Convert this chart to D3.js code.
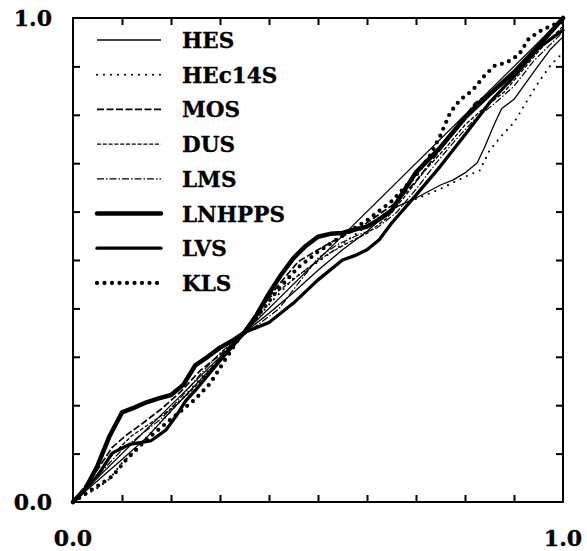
<!DOCTYPE html>
<html>
<head>
<meta charset="utf-8">
<script src="https://cdn.jsdelivr.net/npm/d3@7"></script>
<style>
  html, body { margin: 0; padding: 0; background: #fff; }
  svg { display: block; }
  text { font-family: "DejaVu Serif", serif; font-weight: bold; fill: #000; stroke: #000; stroke-width: 0.35px; }
</style>
</head>
<body>
<svg id="chart" width="587" height="551"></svg>
<script>
// ---------- data ----------
const seriesNames = ["HES", "HEc14S", "MOS", "DUS", "LMS", "LNHPPS", "LVS", "KLS"];
const axisTickLabels = ["0.0", "1.0"];
const axisTickValues = [0, 1];
const minorTicks = [0.1,0.2,0.3,0.4,0.5,0.6,0.7,0.8,0.9];
const diagonal = [[0,0],[1,1]];

const HES = [[0,0],[0.05,0.044],[0.1,0.088],[0.15,0.133],[0.2,0.188],[0.25,0.242],[0.3,0.296],[0.35,0.35],[0.4,0.39],[0.45,0.433],[0.5,0.479],[0.55,0.521],[0.6,0.559],[0.65,0.605],[0.7,0.628],[0.75,0.655],[0.775,0.665],[0.8,0.68],[0.825,0.701],[0.84,0.733],[0.86,0.781],[0.875,0.813],[0.9,0.832],[0.925,0.867],[0.95,0.902],[0.975,0.936],[1,0.961]];
const HEc14S = [[0,0],[0.025,0.015],[0.05,0.029],[0.075,0.048],[0.1,0.081],[0.125,0.104],[0.15,0.133],[0.2,0.188],[0.25,0.244],[0.3,0.298],[0.35,0.35],[0.4,0.408],[0.45,0.462],[0.5,0.496],[0.55,0.533],[0.6,0.571],[0.65,0.605],[0.7,0.626],[0.75,0.647],[0.8,0.672],[0.83,0.685],[0.85,0.726],[0.875,0.757],[0.9,0.784],[0.925,0.826],[0.95,0.867],[0.975,0.903],[1,0.928]];
const MOS = [[0,0],[0.05,0.067],[0.08,0.113],[0.11,0.139],[0.14,0.161],[0.18,0.192],[0.22,0.228],[0.26,0.272],[0.3,0.304],[0.34,0.34],[0.38,0.397],[0.42,0.449],[0.46,0.497],[0.5,0.521],[0.54,0.544],[0.58,0.563],[0.62,0.591],[0.66,0.619],[0.7,0.663],[0.74,0.715],[0.78,0.768],[0.82,0.824],[0.86,0.852],[0.9,0.883],[0.94,0.928],[1,0.975]];
const DUS = [[0,0],[0.05,0.058],[0.08,0.097],[0.12,0.137],[0.16,0.164],[0.2,0.192],[0.24,0.228],[0.28,0.272],[0.32,0.32],[0.36,0.368],[0.4,0.421],[0.44,0.452],[0.48,0.484],[0.52,0.512],[0.56,0.535],[0.6,0.555],[0.64,0.586],[0.68,0.635],[0.72,0.687],[0.76,0.731],[0.8,0.779],[0.84,0.815],[0.88,0.847],[0.92,0.895],[0.96,0.943],[1,0.983]];
const LMS = [[0,0],[0.05,0.054],[0.1,0.108],[0.14,0.14],[0.18,0.172],[0.22,0.216],[0.26,0.264],[0.3,0.308],[0.34,0.34],[0.38,0.368],[0.42,0.399],[0.46,0.452],[0.5,0.504],[0.54,0.532],[0.58,0.551],[0.62,0.566],[0.66,0.598],[0.7,0.646],[0.74,0.699],[0.78,0.747],[0.82,0.791],[0.86,0.823],[0.9,0.859],[0.94,0.911],[1,0.971]];
const LNHPPS = [[0,0],[0.025,0.027],[0.05,0.075],[0.075,0.137],[0.1,0.185],[0.125,0.195],[0.15,0.206],[0.175,0.214],[0.2,0.221],[0.225,0.242],[0.25,0.283],[0.275,0.30],[0.3,0.319],[0.325,0.333],[0.35,0.35],[0.375,0.387],[0.4,0.431],[0.425,0.47],[0.45,0.504],[0.475,0.529],[0.5,0.548],[0.525,0.554],[0.55,0.556],[0.575,0.563],[0.6,0.569],[0.625,0.584],[0.65,0.602],[0.675,0.642],[0.7,0.681],[0.75,0.733],[0.8,0.794],[0.85,0.842],[0.9,0.888],[0.95,0.942],[1,1]];
const LVS = [[0,0],[0.05,0.054],[0.08,0.101],[0.115,0.119],[0.14,0.123],[0.16,0.127],[0.19,0.149],[0.21,0.177],[0.23,0.209],[0.25,0.231],[0.3,0.292],[0.35,0.35],[0.4,0.371],[0.45,0.411],[0.5,0.459],[0.55,0.50],[0.575,0.509],[0.6,0.521],[0.625,0.542],[0.65,0.576],[0.7,0.634],[0.75,0.694],[0.8,0.759],[0.85,0.825],[0.9,0.879],[0.95,0.938],[1,0.975]];
const KLS = [[0,0],[0.05,0.033],[0.08,0.053],[0.11,0.089],[0.15,0.129],[0.2,0.171],[0.25,0.213],[0.28,0.245],[0.31,0.293],[0.34,0.34],[0.38,0.388],[0.42,0.441],[0.46,0.485],[0.5,0.517],[0.55,0.55],[0.6,0.582],[0.65,0.621],[0.7,0.675],[0.73,0.718],[0.75,0.758],[0.77,0.805],[0.79,0.831],[0.815,0.85],[0.84,0.881],[0.86,0.901],[0.885,0.908],[0.91,0.924],[0.93,0.957],[0.955,0.974],[0.98,0.986],[1,0.992]];

const seriesData = [HES, HEc14S, MOS, DUS, LMS, LNHPPS, LVS, KLS];

// ---------- styles ----------
const styles = {
  HES:    { w: 1.3, dash: null, cap: "butt" },
  HEc14S: { w: 2.1, dash: "0,7", cap: "round" },
  MOS:    { w: 1.7, dash: "7,2.5", cap: "butt" },
  DUS:    { w: 1.3, dash: "4,1.8", cap: "butt" },
  LMS:    { w: 1.2, dash: "7,2,1.5,2", cap: "butt" },
  LNHPPS: { w: 4.5, dash: null, cap: "round" },
  LVS:    { w: 3.3, dash: null, cap: "round" },
  KLS:    { w: 4.2, dash: "0,7.5", cap: "round" }
};

// ---------- layout ----------
const svg = d3.select("#chart");
const L = 73, R = 563, T = 18, B = 502;
const x = d3.scaleLinear().domain([0, 1]).range([L, R]);
const y = d3.scaleLinear().domain([0, 1]).range([B, T]);

// axes (inward ticks on all four sides)
svg.append("g").attr("transform", `translate(0,${B})`)
  .call(d3.axisBottom(x).tickValues(minorTicks).tickSize(-7).tickFormat(""))
  .call(g => g.select(".domain").remove());
svg.append("g").attr("transform", `translate(0,${T})`)
  .call(d3.axisTop(x).tickValues(minorTicks).tickSize(-7).tickFormat(""))
  .call(g => g.select(".domain").remove());
svg.append("g").attr("transform", `translate(${L},0)`)
  .call(d3.axisLeft(y).tickValues(minorTicks).tickSize(-7).tickFormat(""))
  .call(g => g.select(".domain").remove());
svg.append("g").attr("transform", `translate(${R},0)`)
  .call(d3.axisRight(y).tickValues(minorTicks).tickSize(-7).tickFormat(""))
  .call(g => g.select(".domain").remove());
svg.selectAll(".tick line").attr("stroke", "#000").attr("stroke-width", 2);

// frame
svg.append("rect").attr("x", L).attr("y", T).attr("width", R - L).attr("height", B - T)
  .attr("fill", "none").attr("stroke", "#000").attr("stroke-width", 2);

// tick labels
axisTickValues.forEach((v, i) => {
  svg.append("text").attr("x", L - 21).attr("y", y(v) + 8)
    .attr("text-anchor", "end").attr("font-size", 22).text(axisTickLabels[i]);
  svg.append("text").attr("x", x(v)).attr("y", 546)
    .attr("text-anchor", "middle").attr("font-size", 22).text(axisTickLabels[i]);
});

// lines
const line = d3.line().x(d => x(d[0])).y(d => y(d[1])).curve(d3.curveLinear);

svg.append("path").datum(diagonal).attr("d", line)
  .attr("fill", "none").attr("stroke", "#000").attr("stroke-width", 1.2);

seriesNames.forEach((name, i) => {
  const s = styles[name];
  svg.append("path").datum(seriesData[i]).attr("d", line)
    .attr("fill", "none").attr("stroke", "#000")
    .attr("stroke-width", s.w)
    .attr("stroke-linecap", s.cap)
    .attr("stroke-linejoin", "round")
    .attr("stroke-dasharray", s.dash);
});

// legend
const legY0 = 40, legDY = 34.7;
seriesNames.forEach((name, i) => {
  const s = styles[name];
  const yy = legY0 + i * legDY;
  svg.append("line").attr("x1", 97).attr("x2", 161).attr("y1", yy).attr("y2", yy)
    .attr("stroke", "#000").attr("stroke-width", s.w)
    .attr("stroke-linecap", s.cap).attr("stroke-dasharray", s.dash);
  svg.append("text").attr("x", 182).attr("y", yy + 8)
    .attr("font-size", 21.5).text(name);
});
</script>
</body>
</html>
